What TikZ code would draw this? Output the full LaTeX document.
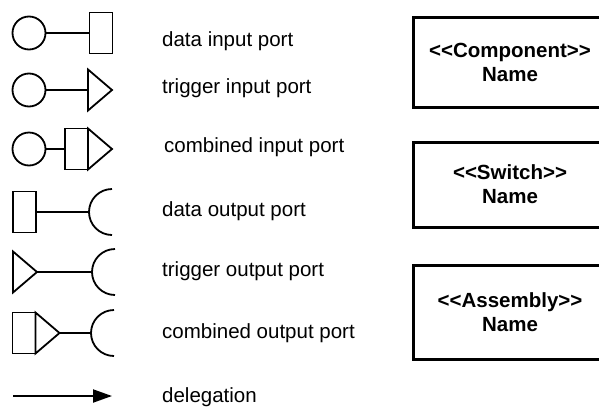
\documentclass[tikz,border=0pt]{standalone}
\usepackage{fontspec}
\setmainfont{Liberation Sans}[Ligatures=TeXOff]
\usetikzlibrary{shapes}
\usetikzlibrary{positioning}
\usetikzlibrary{arrows.meta}
\tikzset{
    portc/.style = {circle, line width=1.8pt, draw=black, inner sep=0pt, outer sep=0pt, minimum size=33pt},
    portr/.style = {rectangle, line width=1.8pt, draw=black, inner sep=0pt, outer sep=0pt, minimum width=23pt, minimum height=41pt},
    portt/.style = {isosceles triangle, isosceles triangle stretches, line width=1.8pt, draw=black, inner sep=0pt, outer sep=0pt, minimum width=41pt, minimum height=24pt},
    compbox/.style = {rectangle, line width=3pt, draw=black, align=center, minimum width=194pt, font=\fontsize{20.5}{24}\selectfont\bfseries},
    lab/.style = {anchor=base west, inner sep=0pt, font=\fontsize{20.5}{24}\selectfont},
    edgen/.style = {line width=1.8pt},
    edged/.style = {line width=2pt,-{Triangle[length=19pt,width=13pt]}}, % delegation
}

\begin{document}
\begin{tikzpicture}[x=1pt,y=-1pt]
  \useasboundingbox (0,0) rectangle (599,410);
  \clip (0,0) rectangle (599,410);

  % data input port
  \node[portc] (c1) at (29,33) {};
  \node[portr] (r1) at (101,33) {};
  \draw[edgen] (c1) -- (r1);

  % trigger input port
  \node[portc] (c2) at (29,90) {};
  \node[portt,anchor=lower side] (t2) at (88,90) {};
  \draw[edgen] (c2) -- (t2);

  % combined input port
  \node[portc] (c3) at (29,149) {};
  \node[portr] (r3) at (76.5,149) {};
  \node[portt,anchor=lower side] (t3) at (r3.east) {};
  \draw[edgen] (c3) -- (r3);

  % data output port
  \node[portr] (r4) at (24.5,212) {};
  \coordinate (s4) at (89,212);
  \draw[edgen] (r4) -- (s4);
  \draw[edgen] (s4) arc[start angle=180, end angle=90, radius=23pt];
  \draw[edgen] (s4) arc[start angle=180, end angle=270, radius=23pt];

  % trigger output port
  \node[portt,anchor=lower side] (t5) at (13,272) {};
  \coordinate (s5) at (92,272);
  \draw[edgen] (t5.apex) -- (s5);
  \draw[edgen] (s5) arc[start angle=180, end angle=90, radius=23pt];
  \draw[edgen] (s5) arc[start angle=180, end angle=270, radius=23pt];

  % combined output port
  \node[portr] (r6) at (24,333) {};
  \node[portt,anchor=lower side] (t6) at (r6.east) {};
  \coordinate (s6) at (91,333);
  \draw[edgen] (t6.apex) -- (s6);
  \draw[edgen] (s6) arc[start angle=180, end angle=90, radius=23pt];
  \draw[edgen] (s6) arc[start angle=180, end angle=270, radius=23pt];

  % delegation
  \coordinate (d1) at (13,396);
  \coordinate (d2) at (112,396);
  \draw[edged] (d1) -- (d2);

  \node[lab] (l1) at (162,46) {data input port};
  \node[lab] (l2) at (162,93) {trigger input port};
  \node[lab] (l3) at (164,152) {combined input port};
  \node[lab] (l4) at (162,216) {data output port};
  \node[lab] (l5) at (162,276) {trigger output port};
  \node[lab] (l6) at (162,338) {combined output port};
  \node[lab] (l7) at (162,402) {delegation};

  \node[compbox,minimum height=90pt] (comp) at (510,62)    {<<Component>>\\Name};
  \node[compbox,minimum height=85pt] (sw)   at (510,184.5) {<<Switch>>\\Name};
  \node[compbox,minimum height=94pt] (asm)  at (510,312)   {<<Assembly>>\\Name};
\end{tikzpicture}
\end{document}
